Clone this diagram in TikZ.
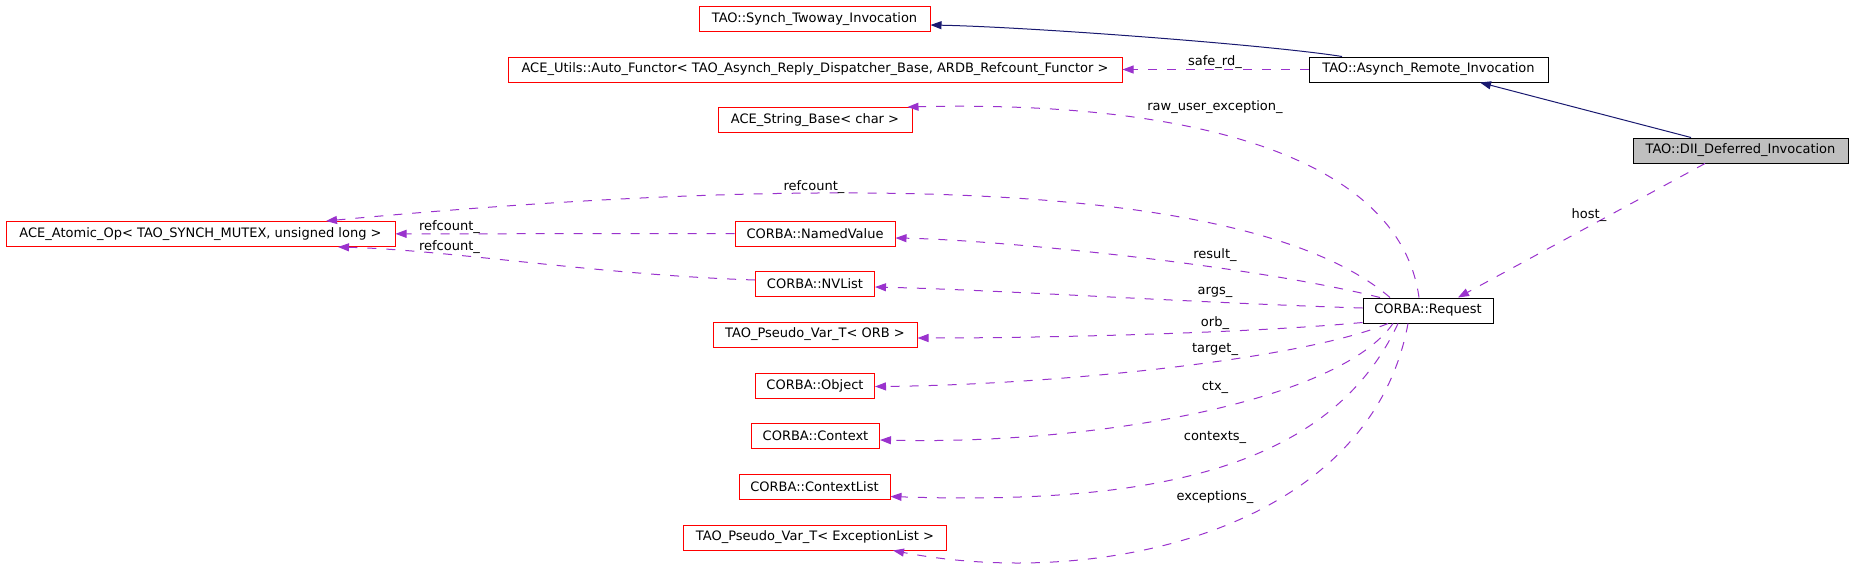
\documentclass[tikz,border=0pt]{standalone}
\usepackage{fontspec}
\setmainfont{DejaVu Sans}
\usetikzlibrary{arrows.meta}

\definecolor{edgepurple}{HTML}{9A32CD}
\definecolor{inhblue}{HTML}{191970}
\definecolor{curgray}{HTML}{BFBFBF}

\tikzset{
	cls/.style={draw=red, line width=1pt, minimum height=25pt, inner sep=0pt, font=\fontsize{13}{15}\selectfont},
	refcls/.style={cls, draw=black},
	curcls/.style={cls, draw=black, fill=curgray},
	usage/.style={edgepurple, line width=1pt, dash pattern=on 9pt off 10pt, -{Triangle[length=11pt, width=8pt]}},
	inherit/.style={inhblue, line width=1pt, -{Triangle[length=11pt, width=8pt]}},
	lbl/.style={inner sep=0pt, font=\fontsize{13}{15}\selectfont}
}

\begin{document}
\begin{tikzpicture}[x=1pt, y=-1pt]
			\useasboundingbox (0,0) rectangle (1853,565);
			
			\node [cls, minimum width=231pt] (synch) at (814.5,19) {TAO::Synch\_Twoway\_Invocation};
			\node [cls, minimum width=614pt] (autof) at (815,69.5) {ACE\_Utils::Auto\_Functor< TAO\_Asynch\_Reply\_Dispatcher\_Base, ARDB\_Refcount\_Functor >};
			\node [cls, minimum width=194pt] (strb) at (815,120) {ACE\_String\_Base< char >};
			\node [refcls, minimum width=239pt] (asynch) at (1428.5,69.5) {TAO::Asynch\_Remote\_Invocation};
			\node [curcls, minimum width=215pt] (dii) at (1740.5,150.5) {TAO::DII\_Deferred\_Invocation};
			\node [refcls, minimum width=130pt] (req) at (1428,310.5) {CORBA::Request};
			\node [cls, minimum width=389pt] (atomic) at (200.5,234) {ACE\_Atomic\_Op< TAO\_SYNCH\_MUTEX, unsigned long >};
			
			\node [cls, minimum width=160pt] (named) at (815,233.5) {CORBA::NamedValue};
			\node [cls, minimum width=119pt] (nvlist) at (815,284) {CORBA::NVList};
			\node [cls, minimum width=204pt] (orb) at (815,334.5) {TAO\_Pseudo\_Var\_T< ORB >};
			\node [cls, minimum width=119pt] (object) at (815,385.5) {CORBA::Object};
			\node [cls, minimum width=128pt] (context) at (815.5,436) {CORBA::Context};
			\node [cls, minimum width=151pt] (ctxlist) at (814.5,486.5) {CORBA::ContextList};
			\node [cls, minimum width=263pt] (exclist) at (815,537.5) {TAO\_Pseudo\_Var\_T< ExceptionList >};
			
			% base classes
			\draw [inherit] ([xshift=-49.5pt]dii.north) -- ([xshift=51.5pt]asynch.south);
			\draw [inherit] ([xshift=-86.5pt]asynch.north) .. controls (1270,45) and (1030,27) .. ([yshift=-6pt]synch.east);
			
			% members
			\draw [usage] (asynch) -- (autof);
			\draw [usage] ([xshift=-35.5pt]dii.south) -- ([xshift=30pt]req.north);
			\draw [usage] ([xshift=-9pt]req.north) .. controls (1400,160) and (1200,100) .. ([xshift=-5pt]strb.north east);
			\draw [usage] ([xshift=-38pt]req.north) .. controls (1230,160) and (700,186) .. ([xshift=125.5pt]atomic.north);
			\draw [usage] (named) -- (atomic);
			\draw [usage] ([yshift=4pt]nvlist.west) .. controls (600,275) and (450,250) .. ([xshift=137.5pt]atomic.south);
			\draw [usage] ([xshift=-48pt]req.north) .. controls (1250,265) and (1000,240) .. ([yshift=-4.5pt]named.east);
			\draw [usage] ([yshift=2.5pt]req.west) .. controls (1200,303) and (1000,290) .. ([yshift=-3pt]nvlist.east);
			\draw [usage] ([yshift=-12pt]req.west) .. controls (1250,333) and (1050,338) .. ([yshift=-3.5pt]orb.east);
			\draw [usage] ([xshift=-40pt]req.south) .. controls (1300,360) and (1050,385) .. ([yshift=-1pt]object.east);
			\draw [usage] ([xshift=-35pt]req.south) .. controls (1340,400) and (1100,445) .. ([yshift=-4pt]context.east);
			\draw [usage] ([xshift=-30pt]req.south) .. controls (1330,470) and (1150,505) .. ([yshift=-10pt]ctxlist.east);
			\draw [usage] ([xshift=-20pt]req.south) .. controls (1370,530) and (1100,590) .. ([xshift=78pt]exclist.south);
			
			% member names
			\foreach \ty/\tx [count=\i] in {62/safe\_rd\_, 107/raw\_user\_exception\_, 255/result\_, 292/args\_, 323/orb\_, 349/target\_, 387/ctx\_, 437/contexts\_, 497/exceptions\_}{
				\node [lbl] (lab\i) at (1215,\ty) {\tx};}
			\node [lbl] (lrefa) at (814,187) {refcount\_};
			\node [lbl] (lrefb) at (449.5,227) {refcount\_};
			\node [lbl] (lrefc) at (449.5,247) {refcount\_};
			\node [lbl] (lhost) at (1589,215) {host\_};
		\end{tikzpicture}
\end{document}
